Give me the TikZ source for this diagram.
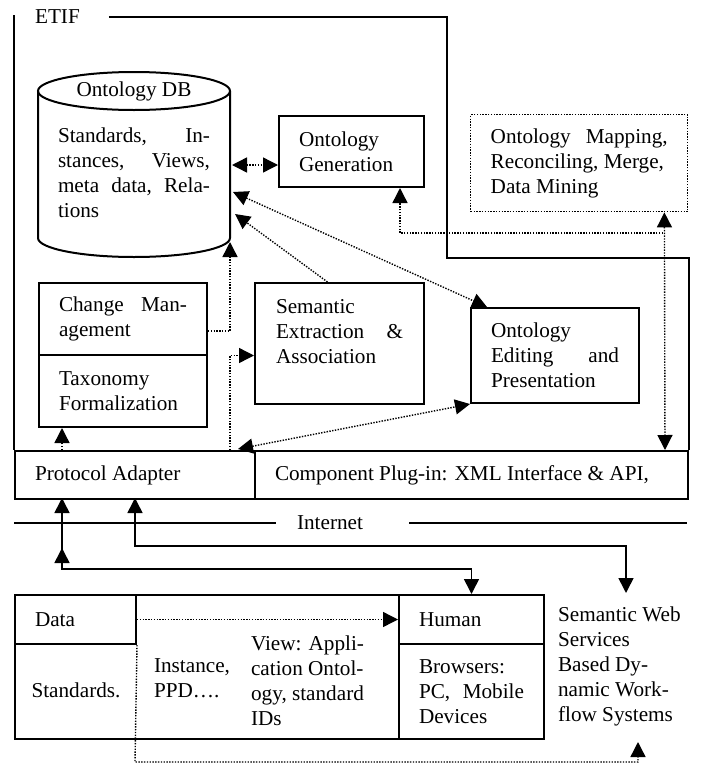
\documentclass[tikz,border=0pt]{standalone}
\usepackage{fontspec}
\setmainfont{Liberation Serif}
\usetikzlibrary{arrows.meta,positioning}
\tikzstyle{box}=[draw,line width=1pt,anchor=north west,inner xsep=10pt,inner ysep=0pt,align=flush left]
\tikzstyle{dotbox}=[box,line width=0.7pt,dash pattern=on 0.7pt off 0.7pt]
\tikzstyle{link}=[draw,line width=0.8pt,>={Triangle[length=7.5pt,width=7.5pt]}]
\tikzstyle{dotlink}=[link,line width=0.7pt,dash pattern=on 0.7pt off 0.7pt]
\tikzstyle{frame}=[draw,line width=1pt]
\tikzstyle{netline}=[draw,line width=1.4pt]

\begin{document}
\begin{tikzpicture}[x=0.5pt,y=-0.5pt,font=\fontsize{10.6}{12.5}\selectfont]
        \useasboundingbox (0,0) rectangle (704,766);

        % ETIF frame
        \node [anchor=west] (etif) at (28,17) {ETIF};
        \node [box,minimum width=120pt,minimum height=24pt,text width=100pt] (proto) at (14,450) {Protocol Adapter};
        \node [box,minimum width=216.5pt,minimum height=24pt,text width=196.5pt] (comp) at (254,450) {Component Plug-in: XML Interface \& API,};
        \draw [frame] (14,15) -- (proto.north west);
        \draw [frame] ([xshift=11pt]etif.east) -| (447,258) -| (comp.north east);

        % ontology DB
        \draw [frame] (38,91) -- (38,238) arc [start angle=180,end angle=0,x radius=96,y radius=19] -- (230,91);
        \draw [frame] (134,91) ellipse [x radius=96,y radius=19];
        \node (dbtitle) at (134,91) {Ontology DB};
        \node [text width=76pt,align=flush left] (dbbody) at (134,173) {Standards,\hfill In-\\stances,\hfill Views,\\meta\hfill data,\hfill Rela-\\tions};
        \coordinate (dbR1) at (232,165);
        \coordinate (dbR2) at (233,192);
        \coordinate (dbR3) at (235,214);
        \coordinate (dbB) at (230,242);

        \node [box,minimum height=35.5pt,text width=52.5pt] (gen) at (278,115) {Ontology\\Generation};
        \node [dotbox,minimum height=48.5pt,text width=88.5pt] (map) at (470,114) {Ontology\hfill Mapping,\\Reconciling, Merge,\\Data Mining};
        \node [box,minimum height=36pt,text width=64pt] (chg) at (38,282) {Change\hfill Man-\\agement};
        \node [box,below=-1pt of chg,minimum height=36pt,text width=64pt] (tax) {Taxonomy\\Formalization};
        \node [box,minimum width=84.5pt,minimum height=60.5pt,text width=63.5pt] (sem) at (254,282) {Semantic\\Extraction\hfill\&\\Association\\\mbox{}};
        \node [box,minimum height=47.5pt,text width=64pt] (edit) at (470,307) {Ontology\\Editing\hfill and\\Presentation};

        \coordinate (pa0) at (62,450);
        \coordinate (pa3) at (230,450);
        \coordinate (pa4) at (238,449);
        \coordinate (mapjoin) at (663,233);

        \path [dotlink,<->] (dbR1) -- (dbR1 -| gen.west);
        \path [dotlink,<->] (dbR2) -- ([xshift=8.5pt]edit.north west);
        \path [dotlink,->] ([xshift=-6pt]sem.north) -- (dbR3);
        \path [dotlink,->] ([yshift=-6pt]chg.east) -| (dbB);
        \path [dotlink,->] (pa3) |- ([yshift=-6pt]sem.west);
        \path [dotlink,<->] (pa4) -- (edit.south west);
        \path [dotlink,->] (pa0) -- (pa0 |- tax.south);
        \path [dotlink,<->] ([xshift=-12pt]map.south east) -- ([xshift=-12pt]comp.north east);
        \path [dotlink,->] (mapjoin) -| ([xshift=-12.5pt]gen.south east);

        % internet
        \node (inet) at (330,523) {Internet};
        \path [netline] (14,523) -- ([xshift=-7pt]inet.west);
        \path [netline] ([xshift=19.5pt]inet.east) -- (687,523);

        % sources
        \node [box,minimum width=264.5pt,minimum height=72pt] (src) at (14,594) {};
        \node [box,minimum width=60.5pt,minimum height=24.5pt,text width=40.5pt] (data) at (14,594) {Data};
        \node [box,minimum height=24.5pt,text width=52.5pt] (human) at (398,594) {Human};
        \node [box,below=-1pt of human,minimum height=47.5pt,text width=52.5pt] (devices) {Browsers:\\PC,\hfill Mobile\\Devices};
        \node (std) at (76,690) {Standards.};
        \node [align=flush left,anchor=west] (inst) at (147,678) {Instance,\\PPD….};
        \node [align=flush left,anchor=west] (view) at (244,681) {View: Appli-\\cation Ontol-\\ogy, standard\\IDs};
        \node [align=flush left,anchor=west] (sws) at (551,666) {Semantic Web\\Services\\Based Dy-\\namic Work-\\flow Systems};

        \coordinate (pb1) at (62,498);
        \coordinate (pb2) at (135,498);
        \coordinate (swsTop) at (626,593);
        \coordinate (swsBot) at (638,742);

        \path [link,<->] (pb1) -- (62,569) -| (human.north);
        \path [link,->] (62,569) -- (62,548);
        \path [link,<->] (pb2) -- (135,546) -| (swsTop);
        \path [dotlink,->] (data.east) -- (human.west);
        \path [dotlink,->] (data.south east) -- (135,762) -| (swsBot);
\end{tikzpicture}
\end{document}
